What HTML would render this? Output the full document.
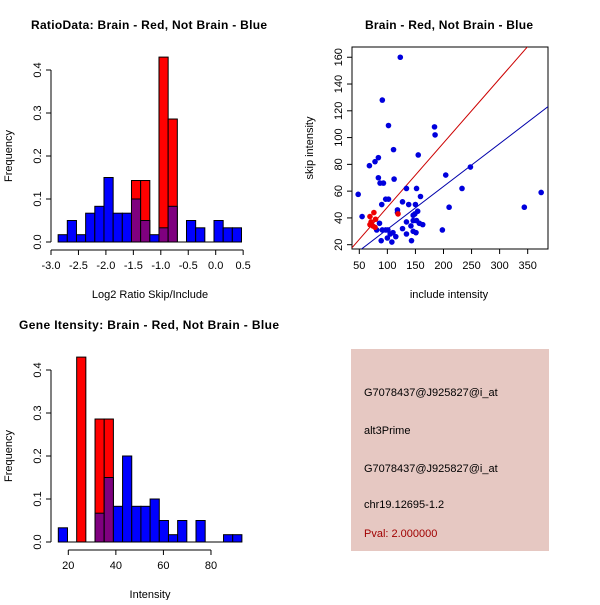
<!DOCTYPE html>
<html><head><meta charset="utf-8"><style>
body{margin:0;background:#fff}
svg{font-family:"Liberation Sans",sans-serif}
</style></head><body>
<svg id="s" width="600" height="600" xmlns="http://www.w3.org/2000/svg">
<defs><clipPath id="sc"><rect x="352" y="47" width="196" height="202"/></clipPath></defs>
<rect width="600" height="600" fill="#fff"/>
<g id="g1"></g>
<g id="g2"></g>
<g id="g3"></g>
<g>
<rect x="351" y="349" width="198" height="202" fill="#E6C8C2"/>
<text x="364" y="396" font-size="11">G7078437@J925827@i_at</text>
<text x="364" y="434" font-size="11">alt3Prime</text>
<text x="364" y="472" font-size="11">G7078437@J925827@i_at</text>
<text x="364" y="508" font-size="11">chr19.12695-1.2</text>
<text x="364" y="537" font-size="11" fill="#A00000">Pval: 2.000000</text>
</g>
</svg>
<script>
// Ratio histogram data
const ratioStart = -2.87, ratioWidth = 0.167;
const ratioBlue = [0.017,0.05,0.017,0.067,0.083,0.15,0.067,0.067,0.1,0.05,0.017,0.033,0.083,0,0.05,0.033,0,0.05,0.033,0.033];
const ratioRed  = [0,0,0,0,0,0,0,0,0.143,0.143,0,0.43,0.286,0,0,0,0,0,0,0];
const ratioXTicks = [-3.0,-2.5,-2.0,-1.5,-1.0,-0.5,0.0,0.5];
const freqTicks = [0.0,0.1,0.2,0.3,0.4];
// Intensity histogram data
const intStart = 15.8, intWidth = 3.86;
const intBlue = [0.033,0,0,0,0.067,0.15,0.083,0.2,0.083,0.083,0.1,0.05,0.017,0.05,0,0.05,0,0,0.017,0.017];
const intRed  = [0,0,0.43,0,0.286,0.286,0,0,0,0,0,0,0,0,0,0,0,0,0,0];
const intXTicks = [20,40,60,80];
// Scatter data
const blueX = [48,55,68,78,84,84,87,93,90,91,102,97,102,111,112,118,118,123,127,134,134,138,152,150,155,159,154,149,146,146,152,157,163,143,146,151,142,134,127,115,108,105,110,101,97,91,81,86,89,100,184,185,204,210,198,233,248,344,374];
const blueY = [57.6,41,79,82,85,70,66,66,50,128,109,54,54,91,69,46,44,160,52,62,37,50,62,50,87,56,45,43,42,38,38,36,35,23,30,29,34,28,32,26,22,28,29,31,31,31,31,36,23,25,108,102,72,48,31,62,78,48,59];
const redX = [69,76,69,71,79,74,78,119];
const redY = [41,44,35,37,39,34,33,43];
const redFit = [0.0, 0.48];
const blueFit = [-0.5, 0.32];
const scXTicks = [50,100,150,200,250,300,350];
const scYTicks = [20,40,60,80,100,120,140,160];

const NS="http://www.w3.org/2000/svg";
function mk(p,tag,a){const e=document.createElementNS(NS,tag);for(const k in a)e.setAttribute(k,a[k]);p.appendChild(e);return e;}
function txt(p,x,y,s,size,anchor,rot,bold){const t=mk(p,'text',{x:x,y:y,'font-size':size,'text-anchor':anchor});if(rot)t.setAttribute('transform','rotate(-90 '+x+' '+y+')');if(bold)t.setAttribute('font-weight','bold');t.textContent=s;return t;}

function hist(g,o){
  const sx=v=>o.x0+(v-o.d0)*o.kx, sy=v=>o.y0-v*o.ky;
  const tt=txt(g,o.tx,o.ty,o.title,12,'start',false,true);
  tt.setAttribute('textLength',o.tl);
  
  for(let i=0;i<o.blue.length;i++){
    const a=o.start+i*o.w,b=a+o.w;
    if(o.red[i]>0){const r=mk(g,'rect',{x:sx(a),y:sy(o.red[i]),width:sx(b)-sx(a),height:sy(0)-sy(o.red[i]),fill:'#FF0000',stroke:'#000','stroke-width':1});
      
      }
    if(o.blue[i]>0){const r=mk(g,'rect',{x:sx(a),y:sy(o.blue[i]),width:sx(b)-sx(a),height:sy(0)-sy(o.blue[i]),fill:o.red[i]>0?'#7F007F':'#0000FF',stroke:'#000','stroke-width':1});
      
      }
  }
  mk(g,'line',{x1:sx(o.start),x2:sx(o.start+o.blue.length*o.w),y1:sy(0),y2:sy(0),stroke:'#000'});
  const ya=mk(g,'g',{});
  mk(ya,'line',{x1:o.ax,x2:o.ax,y1:sy(0),y2:sy(0.4),stroke:'#000'});
  freqTicks.forEach(v=>{mk(ya,'line',{x1:o.ax-5,x2:o.ax,y1:sy(v),y2:sy(v),stroke:'#000'});txt(ya,o.ax-10,sy(v),v.toFixed(1),11,'middle',true);});
  txt(g,12,(sy(0)+sy(0.4))/2,'Frequency',11,'middle',true);
  const xa=mk(g,'g',{});
  const ay=o.y0+8;
  mk(xa,'line',{x1:sx(o.ticks[0]),x2:sx(o.ticks[o.ticks.length-1]),y1:ay,y2:ay,stroke:'#000'});
  o.ticks.forEach(v=>{mk(xa,'line',{x1:sx(v),x2:sx(v),y1:ay,y2:ay+5,stroke:'#000'});txt(xa,sx(v),ay+19,o.fmt(v),11,'middle');});
  txt(g,(o.lx),o.y0+56,o.xlabel,11,'middle');
}
hist(document.getElementById('g1'),{x0:51,d0:-3,kx:54.9,y0:242,ky:430,start:ratioStart,w:ratioWidth,blue:ratioBlue,red:ratioRed,ticks:ratioXTicks,fmt:v=>v.toFixed(1),ax:51,title:'RatioData: Brain - Red, Not Brain - Blue',tx:31,ty:29,tl:236,xlabel:'Log2 Ratio Skip/Include',lx:150});
hist(document.getElementById('g3'),{x0:68.3,d0:20,kx:2.378,y0:542,ky:430,start:intStart,w:intWidth,blue:intBlue,red:intRed,ticks:intXTicks,fmt:v=>String(v),ax:51,title:'Gene Itensity: Brain - Red, Not Brain - Blue',tx:19,ty:329,tl:260,xlabel:'Intensity',lx:150});

(function(){
  const g=document.getElementById('g2');
  const sx=v=>359.3+(v-50)*0.5613, sy=v=>244.7-(v-20)*1.339;
  const tt=txt(g,365,29,'Brain - Red, Not Brain - Blue',12,'start',false,true);
  tt.setAttribute('textLength',168);
  
  const box=mk(g,'rect',{x:352,y:47,width:196,height:202,fill:'none',stroke:'#000'});
  
  const cg=mk(g,'g',{'clip-path':'url(#sc)'});
  const lx0=0,lx1=450;
  const rl=mk(cg,'line',{x1:sx(lx0),y1:sy(redFit[0]+redFit[1]*lx0),x2:sx(lx1),y2:sy(redFit[0]+redFit[1]*lx1),stroke:'#CC0000'});
  
  const bl=mk(cg,'line',{x1:sx(lx0),y1:sy(blueFit[0]+blueFit[1]*lx0),x2:sx(lx1),y2:sy(blueFit[0]+blueFit[1]*lx1),stroke:'#0000AA'});
  
  blueX.forEach((v,i)=>{const c=mk(cg,'circle',{cx:sx(v),cy:sy(blueY[i]),r:2.8,fill:'#0000DD'});
    
    });
  redX.forEach((v,i)=>{const c=mk(cg,'circle',{cx:sx(v),cy:sy(redY[i]),r:2.8,fill:'#EE0000'});
    
    });
  const xa=mk(g,'g',{});
  scXTicks.forEach(v=>{mk(xa,'line',{x1:sx(v),x2:sx(v),y1:249,y2:254,stroke:'#000'});txt(xa,sx(v),269,String(v),11,'middle');});
  const ya=mk(g,'g',{});
  scYTicks.forEach(v=>{mk(ya,'line',{x1:347,x2:352,y1:sy(v),y2:sy(v),stroke:'#000'});txt(ya,342,sy(v),String(v),11,'middle',true);});
  txt(g,449,298,'include intensity',11,'middle');
  txt(g,313,148,'skip intensity',11,'middle',true);
})();
</script>
</body></html>
